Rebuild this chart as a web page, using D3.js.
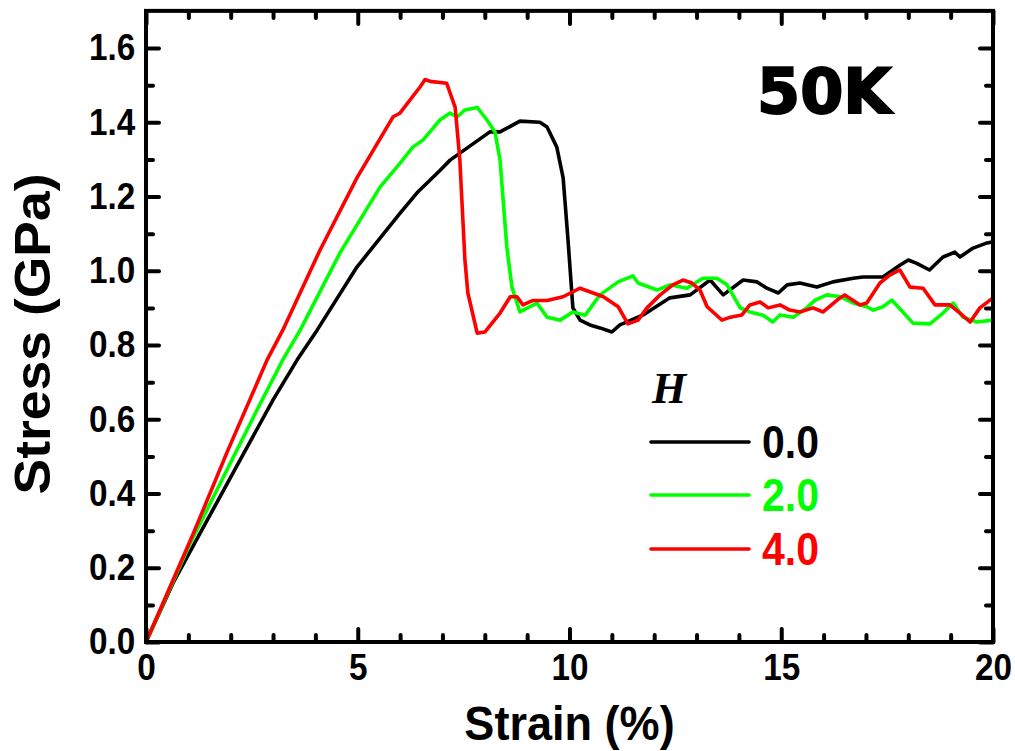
<!DOCTYPE html>
<html>
<head>
<meta charset="utf-8">
<script src="https://cdn.jsdelivr.net/npm/d3@7"></script>
<style>
  body { margin: 0; background: #fff; }
  svg text { font-family: "Liberation Sans", Arial, sans-serif; font-weight: bold; }
</style>
</head>
<body>
<div id="chart"></div>
<script>
// ── Data (strain %, stress GPa) ─────────────────────────────────────────────
const curveH00 = [[0,0],[0.64,0.159],[1.23,0.283],[2.22,0.49],[3.0,0.652],[3.57,0.76],[4.04,0.84],[4.98,1.01],[6.0,1.155],[6.4,1.21],[6.94,1.27],[7.18,1.298],[8.12,1.374],[8.36,1.374],[8.83,1.403],[9.3,1.40],[9.47,1.387],[9.7,1.333],[9.85,1.25],[9.97,1.075],[10.08,0.90],[10.25,0.867],[10.48,0.854],[10.72,0.846],[11.0,0.835],[11.19,0.854],[11.74,0.881],[12.37,0.927],[12.85,0.935],[13.32,0.975],[13.63,0.935],[14.1,0.975],[14.43,0.97],[14.66,0.953],[14.93,0.94],[15.14,0.962],[15.44,0.967],[15.84,0.956],[16.22,0.97],[16.7,0.98],[16.93,0.983],[17.4,0.983],[17.8,1.015],[18.0,1.029],[18.2,1.02],[18.5,1.002],[18.82,1.037],[19.1,1.05],[19.22,1.037],[19.53,1.061],[19.86,1.075],[20,1.078]];

const curveH20 = [[0,0],[1.04,0.265],[2.62,0.625],[3.23,0.76],[3.64,0.84],[4.58,1.048],[5.53,1.226],[6.0,1.29],[6.3,1.333],[6.54,1.352],[6.94,1.406],[7.18,1.425],[7.34,1.414],[7.53,1.433],[7.82,1.44],[8.05,1.406],[8.24,1.374],[8.36,1.298],[8.52,1.064],[8.64,0.956],[8.83,0.889],[9.23,0.913],[9.47,0.875],[9.78,0.867],[10.08,0.889],[10.37,0.88],[10.72,0.935],[11.15,0.97],[11.5,0.986],[11.62,0.967],[12.07,0.948],[12.37,0.962],[12.77,0.953],[13.15,0.98],[13.48,0.98],[13.72,0.962],[14.03,0.90],[14.26,0.889],[14.57,0.88],[14.8,0.862],[14.97,0.881],[15.28,0.875],[15.6,0.90],[15.8,0.921],[16.08,0.935],[16.39,0.93],[16.7,0.913],[17.02,0.903],[17.17,0.894],[17.4,0.903],[17.61,0.921],[17.87,0.889],[18.11,0.859],[18.51,0.857],[18.82,0.886],[19.06,0.913],[19.29,0.875],[19.62,0.862],[20,0.867]];

const curveH40 = [[0,0],[1.11,0.29],[1.91,0.51],[2.86,0.76],[3.23,0.84],[4.11,1.056],[4.98,1.25],[5.83,1.414],[6.0,1.425],[6.47,1.495],[6.59,1.515],[6.71,1.51],[7.1,1.505],[7.3,1.44],[7.41,1.30],[7.53,1.03],[7.6,0.94],[7.82,0.832],[8.0,0.835],[8.36,0.886],[8.6,0.93],[8.76,0.93],[8.9,0.908],[9.14,0.92],[9.47,0.92],[9.85,0.93],[10.25,0.953],[10.8,0.93],[11.15,0.903],[11.38,0.857],[11.62,0.867],[11.83,0.90],[12.14,0.935],[12.44,0.962],[12.68,0.975],[12.89,0.967],[13.08,0.948],[13.25,0.903],[13.6,0.867],[13.8,0.875],[14.07,0.881],[14.26,0.908],[14.5,0.916],[14.69,0.90],[14.97,0.908],[15.2,0.894],[15.44,0.889],[15.75,0.90],[15.99,0.889],[16.32,0.921],[16.5,0.935],[16.86,0.908],[17.02,0.913],[17.33,0.967],[17.57,0.989],[17.8,1.002],[18.04,0.956],[18.35,0.953],[18.63,0.908],[18.98,0.908],[19.22,0.886],[19.46,0.862],[19.69,0.90],[20,0.927]];

const seriesLabels = ["0.0", "2.0", "4.0"];
const seriesColors = ["#000000", "#00ff00", "#ff0000"];
const seriesData   = [curveH00, curveH20, curveH40];

const xMajorTicks = [0, 5, 10, 15, 20];
const yMajorTicks = [0, 0.2, 0.4, 0.6, 0.8, 1.0, 1.2, 1.4, 1.6];

// ── Layout ──────────────────────────────────────────────────────────────────
const W = 1015, H = 751;
const plotLeft = 146, plotRight = 993, plotBottom = 642;

const x = d3.scaleLinear().domain([0, 20]).range([plotLeft, plotRight]);
const y = d3.scaleLinear().domain([0, 1.7]).range([plotBottom, plotBottom - 1.7 * 371.25]);
const plotTop = y(1.7);

const svg = d3.select("#chart").append("svg").attr("width", W).attr("height", H);

// ── Curves ──────────────────────────────────────────────────────────────────
const line = d3.line().x(d => x(d[0])).y(d => y(d[1]));

svg.append("g").selectAll("path")
  .data(seriesData).join("path")
  .attr("d", line)
  .attr("fill", "none")
  .attr("stroke", (d, i) => seriesColors[i])
  .attr("stroke-width", 3.6)
  .attr("stroke-linejoin", "round")
  .attr("stroke-linecap", "round");

// ── Axes (ticks inward on all four sides) ───────────────────────────────────
// the figure's labels are a bit narrower than Arial, so squeeze them sideways
function styleAxis(g) {
  g.select(".domain").remove();
  g.selectAll(".tick line").attr("stroke", "#000").attr("stroke-width", 4).attr("stroke-linecap", "round");
  g.selectAll(".tick text").attr("fill", "#000").attr("font-size", 37).attr("transform", "scale(0.9,1)");
}

const xMinor = d3.range(0, 21, 1).filter(v => v % 5 !== 0);
const yMinor = d3.range(1, 17, 2).map(v => v / 10);

svg.append("g").attr("transform", `translate(0,${plotBottom})`)
  .call(d3.axisBottom(x).tickValues(xMajorTicks).tickSize(-13).tickPadding(12).tickFormat(d3.format("d")))
  .call(styleAxis);
svg.append("g").attr("transform", `translate(0,${plotBottom})`)
  .call(d3.axisBottom(x).tickValues(xMinor).tickSize(-7).tickFormat(""))
  .call(styleAxis);

svg.append("g").attr("transform", `translate(0,${plotTop})`)
  .call(d3.axisTop(x).tickValues(xMajorTicks).tickSize(-13).tickFormat(""))
  .call(styleAxis);
svg.append("g").attr("transform", `translate(0,${plotTop})`)
  .call(d3.axisTop(x).tickValues(xMinor).tickSize(-7).tickFormat(""))
  .call(styleAxis);

const yAxisG = svg.append("g").attr("transform", `translate(${plotLeft},0)`)
  .call(d3.axisLeft(y).tickValues(yMajorTicks).tickSize(-13).tickPadding(12).tickFormat(d3.format(".1f")))
  .call(styleAxis);
yAxisG.selectAll(".tick text").attr("dy", "0.32em");

svg.append("g").attr("transform", `translate(${plotLeft},0)`)
  .call(d3.axisLeft(y).tickValues(yMinor).tickSize(-7).tickFormat(""))
  .call(styleAxis);

svg.append("g").attr("transform", `translate(${plotRight},0)`)
  .call(d3.axisRight(y).tickValues(yMajorTicks).tickSize(-13).tickFormat(""))
  .call(styleAxis);
svg.append("g").attr("transform", `translate(${plotRight},0)`)
  .call(d3.axisRight(y).tickValues(yMinor).tickSize(-7).tickFormat(""))
  .call(styleAxis);

// frame
svg.append("rect")
  .attr("x", plotLeft).attr("y", plotTop)
  .attr("width", plotRight - plotLeft).attr("height", plotBottom - plotTop)
  .attr("fill", "none").attr("stroke", "#000").attr("stroke-width", 4);

// ── Axis titles ─────────────────────────────────────────────────────────────
svg.append("text")
  .attr("transform", `translate(${(plotLeft + plotRight) / 2},740) scale(0.92,1)`)
  .attr("text-anchor", "middle").attr("font-size", 49)
  .text("Strain (%)");

svg.append("text")
  .attr("transform", "translate(50,334) rotate(-90) scale(1.07,1)")
  .attr("text-anchor", "middle").attr("font-size", 50)
  .text("Stress (GPa)");

// ── Annotation ──────────────────────────────────────────────────────────────
svg.append("text")
  .attr("x", 757).attr("y", 113)
  .style("font-family", "'DejaVu Sans', sans-serif")
  .attr("font-size", 62)
  .attr("stroke", "#000").attr("stroke-width", 2)
  .text("50K");

// ── Legend ──────────────────────────────────────────────────────────────────
svg.append("text")
  .attr("x", 652).attr("y", 403)
  .style("font-family", "'Liberation Serif', 'Times New Roman', serif")
  .style("font-style", "italic")
  .attr("font-size", 44)
  .text("H");

const legendYs = [442, 495, 549];
const legend = svg.append("g").selectAll("g")
  .data(seriesLabels).join("g");

legend.append("line")
  .attr("x1", 651).attr("x2", 749)
  .attr("y1", (d, i) => legendYs[i]).attr("y2", (d, i) => legendYs[i])
  .attr("stroke", (d, i) => seriesColors[i])
  .attr("stroke-width", 3.6).attr("stroke-linecap", "round");

legend.append("text")
  .attr("transform", (d, i) => `translate(762,${legendYs[i] + 16}) scale(0.89,1)`)
  .attr("font-size", 46)
  .attr("fill", (d, i) => seriesColors[i])
  .text(d => d);
</script>
</body>
</html>
